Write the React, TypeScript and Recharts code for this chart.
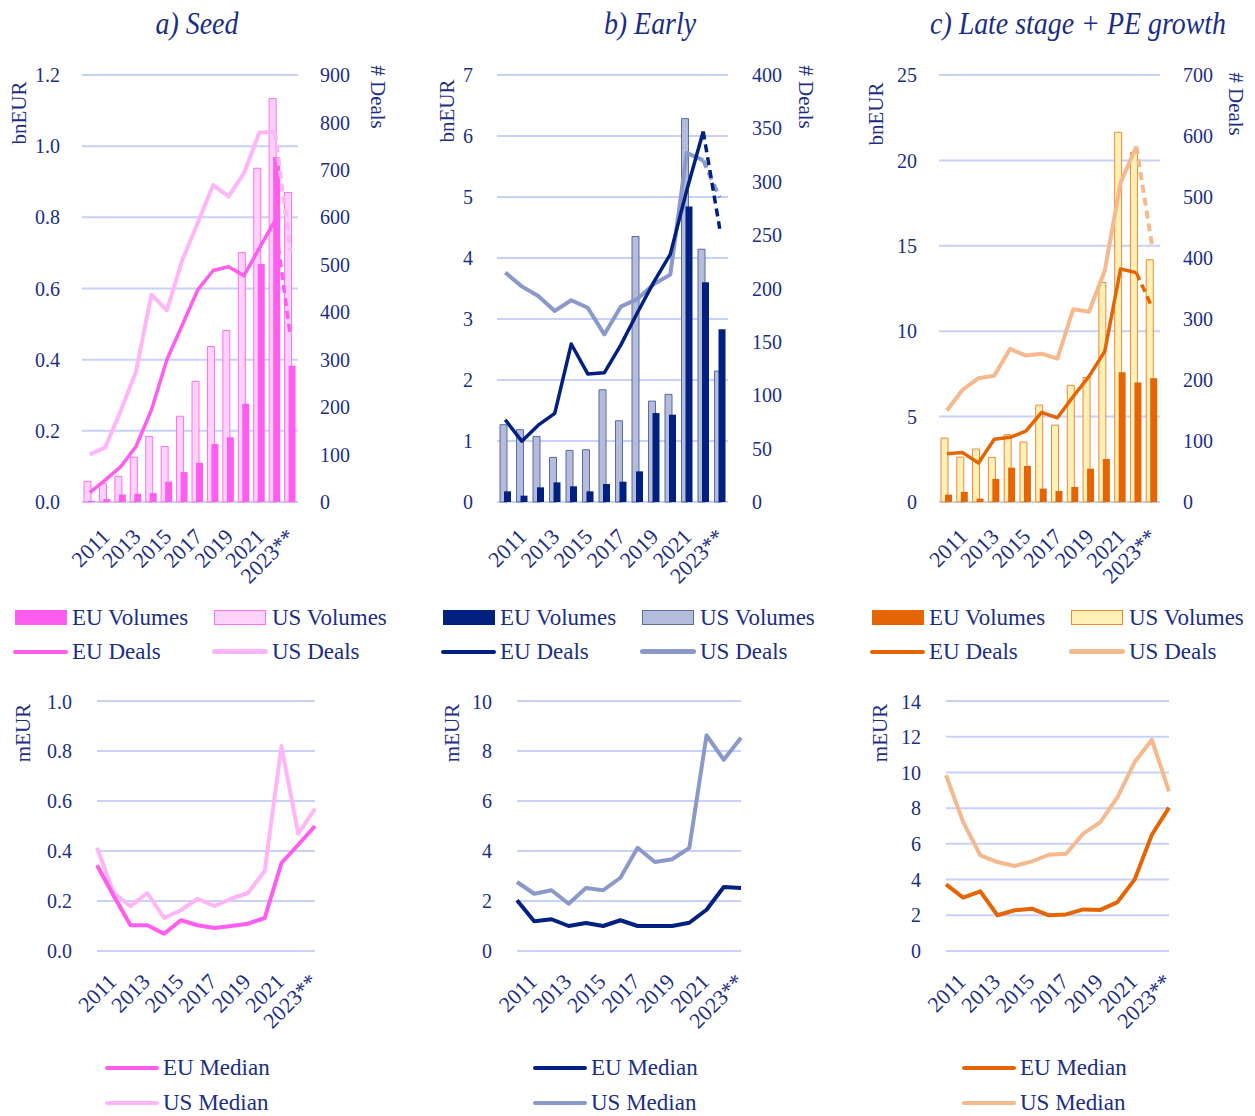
import React from 'react'
import { ComposedChart, LineChart, Bar, Line, XAxis, YAxis, CartesianGrid } from 'recharts'

const years = ['2010', '2011', '2012', '2013', '2014', '2015', '2016', '2017', '2018', '2019', '2020', '2021', '2022', '2023**']

// a) Seed
const seedUsVolumes = [0.058, 0.052, 0.072, 0.126, 0.184, 0.156, 0.241, 0.339, 0.437, 0.482, 0.701, 0.938, 1.134, 0.87]
const seedEuVolumes = [0.003, 0.008, 0.021, 0.023, 0.025, 0.057, 0.084, 0.11, 0.163, 0.182, 0.276, 0.669, 0.969, 0.383]
const seedEuDeals = [20, 46, 74, 117, 194, 300, 373, 447, 488, 496, 477, 535, 593, 350]
const seedUsDeals = [100, 115, 191, 275, 437, 404, 510, 588, 668, 644, 693, 779, 780, 530]
const seedEuMedian = [0.343, 0.22, 0.103, 0.103, 0.069, 0.123, 0.103, 0.092, 0.1, 0.109, 0.132, 0.352, 0.425, 0.5]
const seedUsMedian = [0.413, 0.232, 0.179, 0.232, 0.132, 0.163, 0.209, 0.18, 0.209, 0.232, 0.32, 0.82, 0.469, 0.569]

// b) Early
const earlyUsVolumes = [1.267, 1.185, 1.076, 0.732, 0.846, 0.857, 1.84, 1.332, 4.352, 1.654, 1.764, 6.285, 4.144, 2.146]
const earlyEuVolumes = [0.175, 0.104, 0.24, 0.322, 0.257, 0.175, 0.295, 0.333, 0.502, 1.458, 1.431, 4.843, 3.604, 2.834]
const earlyEuDeals = [77, 57, 72, 83, 148, 120, 121, 147, 177, 206, 232, 292, 347, 256]
const earlyUsDeals = [215, 202, 193, 179, 189, 182, 157, 183, 190, 204, 213, 327, 320, 285]
const earlyEuMedian = [2.03, 1.19, 1.27, 1.0, 1.12, 1.0, 1.23, 1.0, 1.0, 1.0, 1.13, 1.65, 2.56, 2.52]
const earlyUsMedian = [2.76, 2.29, 2.43, 1.89, 2.52, 2.43, 2.93, 4.13, 3.56, 3.67, 4.12, 8.63, 7.65, 8.53]

// c) Late stage + PE growth
const lateUsVolumes = [3.74, 2.63, 3.1, 2.61, 3.94, 3.51, 5.67, 4.5, 6.83, 7.29, 12.85, 21.65, 20.46, 14.18]
const lateEuVolumes = [0.43, 0.59, 0.2, 1.35, 2.01, 2.11, 0.78, 0.64, 0.88, 1.95, 2.52, 7.59, 7.0, 7.25]
const lateEuDeals = [79, 81, 64, 103, 106, 116, 147, 138, 173, 206, 247, 382, 376, 319]
const lateUsDeals = [150, 184, 203, 207, 251, 240, 243, 235, 316, 312, 379, 523, 583, 420]
const lateEuMedian = [3.73, 2.99, 3.34, 2.0, 2.28, 2.37, 2.0, 2.05, 2.33, 2.3, 2.74, 4.01, 6.51, 8.03]
const lateUsMedian = [9.84, 7.22, 5.36, 4.98, 4.76, 5.02, 5.39, 5.45, 6.57, 7.22, 8.62, 10.58, 11.83, 8.94]

// axis ticks
const seedVolTicks = [0, 0.2, 0.4, 0.6, 0.8, 1.0, 1.2]
const seedDealTicks = [0, 100, 200, 300, 400, 500, 600, 700, 800, 900]
const earlyVolTicks = [0, 1, 2, 3, 4, 5, 6, 7]
const earlyDealTicks = [0, 50, 100, 150, 200, 250, 300, 350, 400]
const lateVolTicks = [0, 5, 10, 15, 20, 25]
const lateDealTicks = [0, 100, 200, 300, 400, 500, 600, 700]
const seedMedianTicks = [0, 0.2, 0.4, 0.6, 0.8, 1.0]
const earlyMedianTicks = [0, 2, 4, 6, 8, 10]
const lateMedianTicks = [0, 2, 4, 6, 8, 10, 12, 14]

const NAVY = '#1c2e84'
const GRID = '#c8d1fa'
const FONT = '"Liberation Serif", "Times New Roman", serif'
const LAST_SOLID = 12

const pal = {
  seed: { eu: '#ff5cf0', usFill: '#ffd2fa', usStroke: '#ff70f2', usLine: '#ffb5f7' },
  early: { eu: '#022080', usFill: '#b3bcdb', usStroke: '#5a6ba5', usLine: '#8a99c9' },
  late: { eu: '#e56505', usFill: '#fff0b8', usStroke: '#f08a30', usLine: '#f5b98e' },
}

const buildTop = (usVol: number[], euVol: number[], euDeals: number[], usDeals: number[]) =>
  years.map((year, i) => ({
    year,
    usVol: usVol[i],
    euVol: euVol[i],
    euDeals: i <= LAST_SOLID ? euDeals[i] : null,
    usDeals: i <= LAST_SOLID ? usDeals[i] : null,
    euDealsProj: i >= LAST_SOLID ? euDeals[i] : null,
    usDealsProj: i >= LAST_SOLID ? usDeals[i] : null,
  }))

const buildMedian = (eu: number[], us: number[]) =>
  years.map((year, i) => ({ year, eu: eu[i], us: us[i] }))

const YearTick = (props: any) => {
  const { x, y, index, payload, dx, dy } = props
  if (index % 2 === 0) return <g />
  const tx = x + dx
  const ty = y + dy
  return (
    <text x={tx} y={ty} transform={`rotate(-45, ${tx}, ${ty})`} textAnchor="end"
      fill={NAVY} fontSize={22} fontFamily={FONT}>
      {payload.value}
    </text>
  )
}

const tickStyle = { fill: NAVY, fontSize: 20, fontFamily: FONT }

function TopPanel(props: any) {
  const { left, width, plotLeft, plotRight, data, c, volTicks, dealTicks, fmt, gapL, gapR } = props
  const top = 60
  return (
    <div style={{ position: 'absolute', left, top }}>
      <ComposedChart width={width} height={540} data={data} barGap={-3}
        margin={{ top: 15, right: 0, bottom: 0, left: 0 }}>
        <CartesianGrid yAxisId="l" vertical={false} stroke={GRID} strokeWidth={2} />
        <XAxis dataKey="year" interval={0} axisLine={false} tickLine={false} tickSize={0} height={98}
          tick={(p: any) => <YearTick {...p} dx={6} dy={34} />} />
        <YAxis yAxisId="l" width={plotLeft - left} domain={[volTicks[0], volTicks[volTicks.length - 1]]}
          ticks={volTicks} axisLine={false} tickLine={false} tickSize={0} tickMargin={gapL}
          tick={tickStyle} tickFormatter={fmt} />
        <YAxis yAxisId="r" orientation="right" width={left + width - plotRight}
          domain={[0, dealTicks[dealTicks.length - 1]]} ticks={dealTicks} axisLine={false}
          tickLine={false} tickSize={0} tickMargin={gapR} tick={tickStyle} />
        <Bar yAxisId="l" dataKey="usVol" barSize={7} fill={c.usFill} stroke={c.usStroke} strokeWidth={1}
          isAnimationActive={false} />
        <Bar yAxisId="l" dataKey="euVol" barSize={7} fill={c.eu} isAnimationActive={false} />
        <Line yAxisId="r" dataKey="usDeals" stroke={c.usLine} strokeWidth={4} dot={false}
          strokeLinejoin="round" isAnimationActive={false} />
        <Line yAxisId="r" dataKey="usDealsProj" stroke={c.usLine} strokeWidth={4} strokeDasharray="8 5"
          dot={false} isAnimationActive={false} />
        <Line yAxisId="r" dataKey="euDeals" stroke={c.eu} strokeWidth={3.5} dot={false}
          strokeLinejoin="round" isAnimationActive={false} />
        <Line yAxisId="r" dataKey="euDealsProj" stroke={c.eu} strokeWidth={3.5} strokeDasharray="8 5"
          dot={false} isAnimationActive={false} />
      </ComposedChart>
    </div>
  )
}

function MedianPanel(props: any) {
  const { left, width, plotLeft, plotRight, data, c, ticks, fmt } = props
  return (
    <div style={{ position: 'absolute', left, top: 690 }}>
      <LineChart width={width} height={360} data={data}
        margin={{ top: 11, right: left + width - plotRight, bottom: 0, left: 0 }}>
        <CartesianGrid vertical={false} stroke={GRID} strokeWidth={2} />
        <XAxis dataKey="year" interval={0} axisLine={false} tickLine={false} tickSize={0} height={99}
          tick={(p: any) => <YearTick {...p} dx={4} dy={30} />} />
        <YAxis width={plotLeft - left} domain={[0, ticks[ticks.length - 1]]} ticks={ticks}
          axisLine={false} tickLine={false} tickSize={0} tickMargin={25} tick={tickStyle}
          tickFormatter={fmt} />
        <Line dataKey="us" stroke={c.usLine} strokeWidth={4} dot={false} strokeLinejoin="round"
          isAnimationActive={false} />
        <Line dataKey="eu" stroke={c.eu} strokeWidth={4} dot={false} strokeLinejoin="round"
          isAnimationActive={false} />
      </LineChart>
    </div>
  )
}

const textStyle: React.CSSProperties = {
  position: 'absolute', color: NAVY, fontFamily: FONT, fontSize: 23, lineHeight: '23px', whiteSpace: 'nowrap',
}

function VLabel({ text, x, y, angle }: { text: string; x: number; y: number; angle: number }) {
  return (
    <div style={{ ...textStyle, fontSize: 21, left: x, top: y, transform: `translate(-50%, -50%) rotate(${angle}deg)` }}>
      {text}
    </div>
  )
}

function TopLegend({ x, c }: { x: number; c: any }) {
  return (
    <>
      <div style={{ position: 'absolute', left: x, top: 610, width: 52, height: 15, background: c.eu }} />
      <div style={{ ...textStyle, left: x + 57, top: 606 }}>EU Volumes</div>
      <div style={{ position: 'absolute', left: x + 199, top: 610, width: 50, height: 13, background: c.usFill, border: `1px solid ${c.usStroke}` }} />
      <div style={{ ...textStyle, left: x + 257, top: 606 }}>US Volumes</div>
      <div style={{ position: 'absolute', left: x - 2, top: 650, width: 55, height: 3.5, background: c.eu, borderRadius: 2 }} />
      <div style={{ ...textStyle, left: x + 57, top: 640 }}>EU Deals</div>
      <div style={{ position: 'absolute', left: x + 197, top: 649, width: 56, height: 5, background: c.usLine, borderRadius: 3 }} />
      <div style={{ ...textStyle, left: x + 257, top: 640 }}>US Deals</div>
    </>
  )
}

function MedianLegend({ x, c }: { x: number; c: any }) {
  return (
    <>
      <div style={{ position: 'absolute', left: x, top: 1066, width: 54, height: 4, background: c.eu, borderRadius: 2 }} />
      <div style={{ ...textStyle, left: x + 58, top: 1056 }}>EU Median</div>
      <div style={{ position: 'absolute', left: x, top: 1101, width: 54, height: 4, background: c.usLine, borderRadius: 2 }} />
      <div style={{ ...textStyle, left: x + 58, top: 1091 }}>US Median</div>
    </>
  )
}

function Title({ text, cx }: { text: string; cx: number }) {
  return (
    <div style={{ ...textStyle, fontSize: 31, lineHeight: '31px', fontStyle: 'italic', left: cx, top: 8, transform: 'translateX(-50%) scaleX(0.9)' }}>
      {text}
    </div>
  )
}

const fmt1 = (v: number) => v.toFixed(1)

export default function App() {
  const seedTop = buildTop(seedUsVolumes, seedEuVolumes, seedEuDeals, seedUsDeals)
  const earlyTop = buildTop(earlyUsVolumes, earlyEuVolumes, earlyEuDeals, earlyUsDeals)
  const lateTop = buildTop(lateUsVolumes, lateEuVolumes, lateEuDeals, lateUsDeals)

  return (
    <div style={{ position: 'absolute', left: 0, top: 0, width: 1255, height: 1116, background: '#fff', overflow: 'hidden', fontFamily: FONT }}>
      <Title text="a) Seed" cx={197} />
      <Title text="b) Early" cx={650} />
      <Title text="c) Late stage + PE growth" cx={1078} />

      <TopPanel left={0} width={400} plotLeft={82} plotRight={298} data={seedTop} c={pal.seed}
        volTicks={seedVolTicks} dealTicks={seedDealTicks} fmt={fmt1} gapL={22} gapR={22} />
      <TopPanel left={420} width={410} plotLeft={497} plotRight={728} data={earlyTop} c={pal.early}
        volTicks={earlyVolTicks} dealTicks={earlyDealTicks} fmt={(v: number) => String(v)} gapL={24} gapR={24} />
      <TopPanel left={850} width={405} plotLeft={939} plotRight={1160} data={lateTop} c={pal.late}
        volTicks={lateVolTicks} dealTicks={lateDealTicks} fmt={(v: number) => String(v)} gapL={22} gapR={23} />

      <VLabel text="bnEUR" x={19} y={113} angle={-90} />
      <VLabel text="# Deals" x={377} y={97} angle={90} />
      <VLabel text="bnEUR" x={447} y={111} angle={-90} />
      <VLabel text="# Deals" x={805} y={97} angle={90} />
      <VLabel text="bnEUR" x={876} y={114} angle={-90} />
      <VLabel text="# Deals" x={1235} y={104} angle={90} />

      <MedianPanel left={0} width={330} plotLeft={97} plotRight={315} data={buildMedian(seedEuMedian, seedUsMedian)}
        c={pal.seed} ticks={seedMedianTicks} fmt={fmt1} />
      <MedianPanel left={420} width={340} plotLeft={517} plotRight={741} data={buildMedian(earlyEuMedian, earlyUsMedian)}
        c={pal.early} ticks={earlyMedianTicks} fmt={(v: number) => String(v)} />
      <MedianPanel left={850} width={340} plotLeft={946} plotRight={1169} data={buildMedian(lateEuMedian, lateUsMedian)}
        c={pal.late} ticks={lateMedianTicks} fmt={(v: number) => String(v)} />

      <TopLegend x={15} c={pal.seed} />
      <TopLegend x={443} c={pal.early} />
      <TopLegend x={872} c={pal.late} />

      <VLabel text="mEUR" x={23} y={733} angle={-90} />
      <VLabel text="mEUR" x={452} y={733} angle={-90} />
      <VLabel text="mEUR" x={880} y={733} angle={-90} />

      <MedianLegend x={105} c={pal.seed} />
      <MedianLegend x={533} c={pal.early} />
      <MedianLegend x={962} c={pal.late} />
    </div>
  )
}
